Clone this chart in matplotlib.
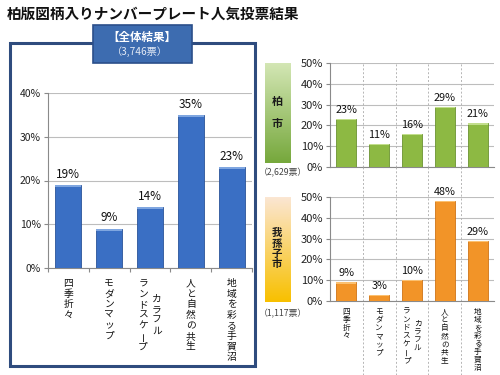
import matplotlib
matplotlib.use("Agg")
import matplotlib.pyplot as plt
import matplotlib.patches as patches
import numpy as np

plt.rcParams["font.family"] = ["Noto Sans CJK JP", "DejaVu Sans"]

TITLE = "柏版図柄入りナンバープレート人気投票結果"
CATEGORIES = ["四季折々", "モダンマップ", "カラフル\nランドスケープ", "人と自然の共生", "地域を彩る手賀沼"]
TOTAL_PCT = [19, 9, 14, 35, 23]
KASHIWA_PCT = [23, 11, 16, 29, 21]
ABIKO_PCT = [9, 3, 10, 48, 29]
TOTAL_VOTES = "（3,746票）"
KASHIWA_VOTES = "（2,629票）"
ABIKO_VOTES = "（1,117票）"

W, H = 500, 375


def fx(px):
    return px / W


def fy(py):
    return 1 - py / H


def vlabel(ax, x, text, size, gap, lh, colgap):
    """Japanese vertical text: one column per line, right to left, centred columns."""
    cols = text.split("\n")
    longest = max(len(c) for c in cols)
    n = len(cols)
    for k, col in enumerate(cols):
        dx = ((n - 1) / 2 - k) * colgap
        start = (longest - len(col)) / 2
        for j, ch in enumerate(col):
            ax.annotate(ch, (x, 0), xycoords=ax.get_xaxis_transform(),
                        xytext=(dx, -gap - (start + j + 0.5) * lh),
                        textcoords="offset points", ha="center", va="center",
                        fontsize=size, color="#111",
                        rotation=90 if ch == "ー" else 0,
                        annotation_clip=False)


def style_axes(ax, ymax, tick_size):
    ax.set_ylim(0, ymax)
    ax.set_xlim(-0.5, len(CATEGORIES) - 0.5)
    ax.set_yticks(np.arange(0, ymax + 1, 10))
    ax.set_yticklabels([f"{t}%" for t in range(0, ymax + 1, 10)], fontsize=tick_size, color="#222")
    ax.yaxis.grid(True, color="#bdbdbd", linewidth=0.8)
    ax.set_axisbelow(True)
    for s in ("top", "right"):
        ax.spines[s].set_visible(False)
    for s in ("left", "bottom"):
        ax.spines[s].set_color("#8a8a8a")
        ax.spines[s].set_linewidth(0.8)
    ax.tick_params(axis="y", length=3, width=0.8, color="#8a8a8a", pad=2)
    ax.set_xticks(np.arange(-0.5, len(CATEGORIES), 1))
    ax.set_xticklabels([])
    ax.tick_params(axis="x", length=3, width=0.8, color="#8a8a8a")
    ax.patch.set_alpha(0)


def draw_bars(ax, vals, width, face, edge, top, label_size, ymax):
    x = np.arange(len(vals))
    ax.bar(x, vals, width, color=face, edgecolor=edge, linewidth=0.6, zorder=3)
    cap = ymax * 0.012
    ax.bar(x, [cap] * len(vals), width, bottom=np.array(vals) - cap, color=top,
           linewidth=0, zorder=4)
    for xi, v in zip(x, vals):
        ax.annotate(f"{v}%", (xi, v), xytext=(0, 3), textcoords="offset points",
                    ha="center", va="bottom", fontsize=label_size, color="#111",
                    annotation_clip=False)


fig = plt.figure(figsize=(W / 100, H / 100), dpi=100)
fig.patch.set_facecolor("white")

fig.text(fx(7), fy(14), TITLE, fontsize=10.5, fontweight="bold", ha="left", va="center", color="#111")

# left panel frame + header box
fig.add_artist(patches.Rectangle((fx(10), fy(366)), fx(245), 323 / H, transform=fig.transFigure,
                                 fill=False, edgecolor="#2f4c7e", linewidth=2.2))
fig.add_artist(patches.Rectangle((fx(93), fy(63)), fx(99), 38 / H, transform=fig.transFigure,
                                 facecolor="#3d6cb0", edgecolor="#2b4f8a", linewidth=1.2))
fig.text(fx(142), fy(37), "【全体結果】", fontsize=8.3, fontweight="bold", color="white", ha="center", va="center")
fig.text(fx(140), fy(52), TOTAL_VOTES, fontsize=7.3, color="#e3eaf5", ha="center", va="center")

# overall chart
ax1 = fig.add_axes([fx(48), fy(268), fx(204), 175 / H])
style_axes(ax1, 40, 7.5)
draw_bars(ax1, TOTAL_PCT, 0.64, "#3a6fc4", "#2a5399", "#7fa6e0", 8.5, 40)
for i, c in enumerate(CATEGORIES):
    vlabel(ax1, i, c, 7, 7, 7.6, 10)

# Kashiwa
ax2 = fig.add_axes([fx(330), fy(167), fx(164), 104 / H])
style_axes(ax2, 50, 8)
ax2.tick_params(axis="x", length=0)
draw_bars(ax2, KASHIWA_PCT, 0.61, "#8db943", "#6b9331", "#c2de8c", 7.8, 50)
for b in np.arange(0.5, len(CATEGORIES) - 1, 1):
    ax2.axvline(b, color="#b5b5b5", linestyle=(0, (2, 2)), linewidth=0.7, zorder=1)

# Abiko
ax3 = fig.add_axes([fx(330), fy(301), fx(164), 104 / H])
style_axes(ax3, 50, 8)
ax3.tick_params(axis="x", length=0)
draw_bars(ax3, ABIKO_PCT, 0.61, "#f29428", "#cf7416", "#fbc070", 7.8, 50)
for b in np.arange(0.5, len(CATEGORIES) - 1, 1):
    ax3.plot([b, b], [-0.712, 1.288], transform=ax3.get_xaxis_transform(), color="#b5b5b5",
             linestyle=(0, (2, 2)), linewidth=0.7, zorder=1, clip_on=False)
for i, c in enumerate(CATEGORIES):
    vlabel(ax3, i, c, 5.5, 5, 5.8, 8)


def side_box(px0, py0, pw, ph, c_top, c_bot):
    bax = fig.add_axes([fx(px0), fy(py0 + ph), fx(pw), ph / H])
    grad = np.linspace(0, 1, 100)[:, None]
    cmap = matplotlib.colors.LinearSegmentedColormap.from_list("g", [c_top, c_bot])
    bax.imshow(grad, aspect="auto", cmap=cmap, extent=(0, 1, 1, 0))
    bax.set_axis_off()
    return bax


side_box(265, 63, 25, 100, "#d3e6b4", "#76a83c")
fig.text(fx(277), fy(102), "柏", fontsize=8, fontweight="bold", color="#1a1a1a", ha="center", va="center")
fig.text(fx(277), fy(124), "市", fontsize=8, fontweight="bold", color="#1a1a1a", ha="center", va="center")
fig.text(fx(283), fy(173), KASHIWA_VOTES, fontsize=6.3, color="#444", ha="center", va="center")

side_box(265, 197, 25, 105, "#fbe6d2", "#f8c000")
for j, ch in enumerate("我孫子市"):
    fig.text(fx(277), fy(233 + j * 10.5), ch, fontsize=7.5, fontweight="bold", color="#1a1a1a",
             ha="center", va="center")
fig.text(fx(283), fy(314), ABIKO_VOTES, fontsize=6.3, color="#444", ha="center", va="center")

fig.savefig("out.png", dpi=100)
